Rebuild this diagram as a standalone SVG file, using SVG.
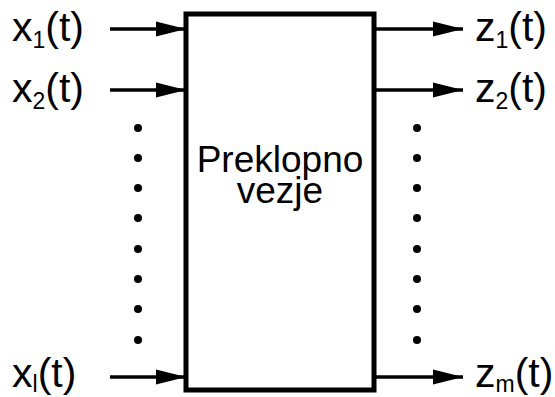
<svg xmlns="http://www.w3.org/2000/svg" width="555" height="397" viewBox="0 0 555 397">
<style>
text{font-family:"Liberation Sans",Arial,sans-serif;fill:#000}
.lbl{font-size:41px}
.sub{font-size:23px}
.conn line{stroke:#000;stroke-width:3.5}
.dot{fill:#000}
</style>
<defs>
<marker id="ah" markerUnits="userSpaceOnUse" markerWidth="30" markerHeight="16" refX="28" refY="7" orient="auto" viewBox="0 0 28 14">
<path d="M0,0 L28,7 L0,14 Z" fill="#000"/>
</marker>
</defs>
<rect width="555" height="397" fill="#fff"/>
<g id="box">
<rect x="186" y="14" width="188" height="376" fill="#fff" stroke="#000" stroke-width="5"/>
<text x="280" y="172" font-size="37" text-anchor="middle">Preklopno</text>
<text x="280" y="203" font-size="37" text-anchor="middle">vezje</text>
</g>
<g class="conn" id="connectors">
<line x1="110" y1="29" x2="186" y2="29" marker-end="url(#ah)"/>
<line x1="110" y1="90" x2="186" y2="90" marker-end="url(#ah)"/>
<line x1="110" y1="377" x2="186" y2="377" marker-end="url(#ah)"/>
<line x1="374" y1="29" x2="463" y2="29" marker-end="url(#ah)"/>
<line x1="374" y1="90" x2="463" y2="90" marker-end="url(#ah)"/>
<line x1="374" y1="377" x2="463" y2="377" marker-end="url(#ah)"/>
</g>
<g id="inputs">
<text class="lbl" x="12" y="41">x<tspan class="sub" dy="7">1</tspan><tspan dy="-7">(t)</tspan></text>
<text class="lbl" x="12" y="102">x<tspan class="sub" dy="7">2</tspan><tspan dy="-7">(t)</tspan></text>
<text class="lbl" x="12" y="387">x<tspan class="sub" dy="5">l</tspan><tspan dy="-5">(t)</tspan></text>
<g class="dot">
<circle cx="138" cy="128" r="4"/><circle cx="138" cy="158" r="4"/><circle cx="138" cy="188" r="4"/><circle cx="138" cy="218" r="4"/>
<circle cx="138" cy="249" r="4"/><circle cx="138" cy="279" r="4"/><circle cx="138" cy="309" r="4"/><circle cx="138" cy="340" r="4"/>
</g>
</g>
<g id="outputs">
<text class="lbl" x="475" y="41">z<tspan class="sub" dy="7">1</tspan><tspan dy="-7">(t)</tspan></text>
<text class="lbl" x="475" y="102">z<tspan class="sub" dy="7">2</tspan><tspan dy="-7">(t)</tspan></text>
<text class="lbl" x="475" y="387">z<tspan class="sub" dy="5">m</tspan><tspan dy="-5">(t)</tspan></text>
<g class="dot">
<circle cx="417" cy="128" r="4"/><circle cx="417" cy="158" r="4"/><circle cx="417" cy="188" r="4"/><circle cx="417" cy="218" r="4"/>
<circle cx="417" cy="249" r="4"/><circle cx="417" cy="279" r="4"/><circle cx="417" cy="309" r="4"/><circle cx="417" cy="340" r="4"/>
</g>
</g>
</svg>
